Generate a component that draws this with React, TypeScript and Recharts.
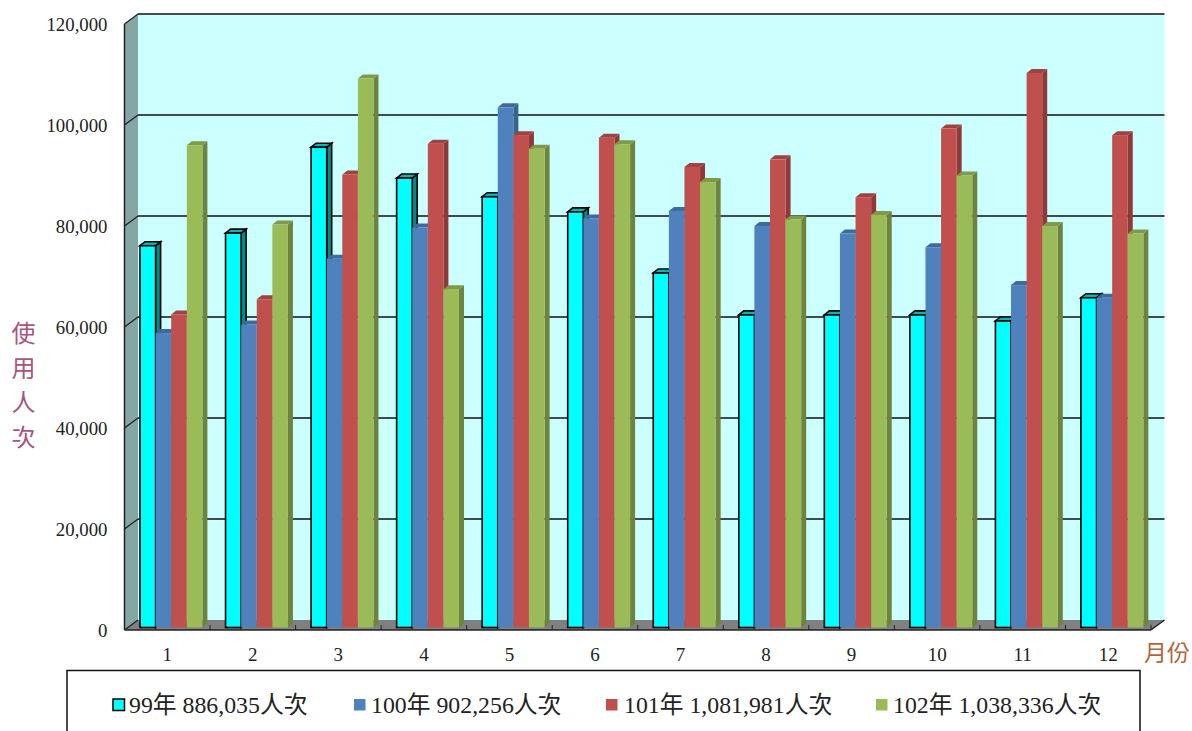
import React from "react";
import { ComposedChart, Bar, XAxis, YAxis, Customized } from "recharts";

const months = ["1","2","3","4","5","6","7","8","9","10","11","12"];
const y99 = [75600,78100,95100,89000,85300,82300,70200,61900,61900,61900,60700,65300];
const y100 = [58300,60000,73000,79200,103000,81000,82500,79500,78000,75300,67800,65300];
const y101 = [62000,65000,89700,95800,97500,97000,91200,92700,85200,98800,109800,97500];
const y102 = [95500,79800,108700,67000,94800,95700,88200,80800,81700,89500,79500,78000];
const yTicks = [0,20000,40000,60000,80000,100000,120000];
const names = ["99年 886,035人次","100年 902,256人次","101年 1,081,981人次","102年 1,038,336人次"];
const data = months.map((m,i)=>({m,a:y99[i],b:y100[i],c:y101[i],d:y102[i]}));

const FONT = '"Liberation Serif","Noto Sans CJK TC",serif';
const W = 1192, H = 731;
const L = 124.5, T = 24, R = 1151, B = 630;
const DX = 13.5, DY = -10;
const yOf = (v:number)=> B - (v/120000)*(B-T);

const faces = [
  {fill:"#00ffff",side:"#008b8b",top:"#00b8b8",stroke:"#000"},
  {fill:"#4f81bd",side:"#3a6291",top:"#41699c",stroke:"none"},
  {fill:"#c0504d",side:"#8f3a38",top:"#a04340",stroke:"none"},
  {fill:"#9bbb59",side:"#6d833e",top:"#7f9a48",stroke:"none"},
];

const make3D = (f:typeof faces[number]) => (p:any) => {
  const x=p.x+3.5, y=p.y-2.5, w=p.width, h=p.height, d=5, e=-4;
  const sw = f.stroke==="none"?0:1.6;
  return (
    <g>
      <polygon points={`${x+w},${y} ${x+w+d},${y+e} ${x+w+d},${y+h+e} ${x+w},${y+h}`} fill={f.side} stroke={f.stroke} strokeWidth={sw}/>
      <polygon points={`${x},${y} ${x+d},${y+e} ${x+w+d},${y+e} ${x+w},${y}`} fill={f.top} stroke={f.stroke} strokeWidth={sw}/>
      <rect x={x} y={y} width={w} height={h} fill={f.fill} stroke={f.stroke} strokeWidth={sw}/>
    </g>
  );
};

const Walls = () => (
  <g>
    <rect x={L+DX} y={T+DY} width={R-L} height={B-T} fill="#ccffff"/>
    <polygon points={`${L},${T} ${L+DX},${T+DY} ${L+DX},${B+DY} ${L},${B}`} fill="#86a5a5"/>
    <polygon points={`${L},${B} ${L+DX},${B+DY} ${R+DX},${B+DY} ${R},${B}`} fill="#808080"/>
    {yTicks.slice(1).map(v=>(
      <line key={v} x1={L+DX} x2={R+DX} y1={yOf(v)+DY} y2={yOf(v)+DY} stroke="#111" strokeWidth={1.5}/>
    ))}
    {yTicks.map(v=>(
      <line key={"d"+v} x1={L} x2={L+DX} y1={yOf(v)} y2={yOf(v)+DY} stroke="#222" strokeWidth={1.3}/>
    ))}
    <line x1={R} x2={R+DX} y1={B} y2={B+DY} stroke="#222" strokeWidth={1.5}/>
  </g>
);

const Front = () => (
  <g>
    <line x1={L} x2={L} y1={T} y2={B} stroke="#222" strokeWidth={1.5}/>
    <line x1={L} x2={R} y1={B} y2={B} stroke="#222" strokeWidth={1.6}/>
    {months.map((_,i)=>{
      const x=L+((R-L)/months.length)*(i+1);
      return <line key={i} x1={x} x2={x} y1={B-5} y2={B} stroke="#222" strokeWidth={1}/>;
    })}
    <text x={1167} y={661} textAnchor="middle" fontFamily={FONT} fontSize={23} fill="#b5633c">月份</text>
    {["使","用","人","次"].map((c,i)=>(
      <text key={c} x={23.5} y={342+i*34.5} textAnchor="middle" fontFamily={FONT} fontSize={24} fill="#a9557f">{c}</text>
    ))}
    <path d={`M67 731V670.5H1140V731`} fill="none" stroke="#111" strokeWidth={1.5}/>
    {names.map((n,i)=>{
      const mx=[113,354,606,876][i], tx=[129,371,624,893][i];
      return (
        <g key={n}>
          <rect x={mx} y={699} width={11.5} height={11.5} fill={faces[i].fill} stroke={faces[i].stroke==="none"?"none":"#000"} strokeWidth={1.5}/>
          <text x={tx} y={713} fontFamily={FONT} fontSize={23.8} fill="#222">{n}</text>
        </g>
      );
    })}
  </g>
);

export default function App(){
  return (
    <div style={{position:"absolute",left:0,top:0,width:W,height:H,overflow:"hidden",background:"#fff"}}>
      <ComposedChart width={W} height={H} data={data} barGap={0} barSize={15.6}
        margin={{left:0,top:T,right:W-R,bottom:0}}>
        <Customized component={<Walls/>}/>
        <XAxis dataKey="m" axisLine={false} tickLine={false} tickMargin={12} height={H-B}
          tick={{fontFamily:FONT,fontSize:19,fill:"#222"}} interval={0}/>
        <YAxis domain={[0,120000]} ticks={yTicks} width={L} axisLine={false} tickLine={false} tickMargin={11}
          tickFormatter={(v:number)=>v.toLocaleString("en-US")}
          tick={{fontFamily:FONT,fontSize:18.8,fill:"#222"}}/>
        <Bar dataKey="a" name={names[0]} isAnimationActive={false} shape={make3D(faces[0])}/>
        <Bar dataKey="b" name={names[1]} isAnimationActive={false} shape={make3D(faces[1])}/>
        <Bar dataKey="c" name={names[2]} isAnimationActive={false} shape={make3D(faces[2])}/>
        <Bar dataKey="d" name={names[3]} isAnimationActive={false} shape={make3D(faces[3])}/>
        <Customized component={<Front/>}/>
      </ComposedChart>
    </div>
  );
}
